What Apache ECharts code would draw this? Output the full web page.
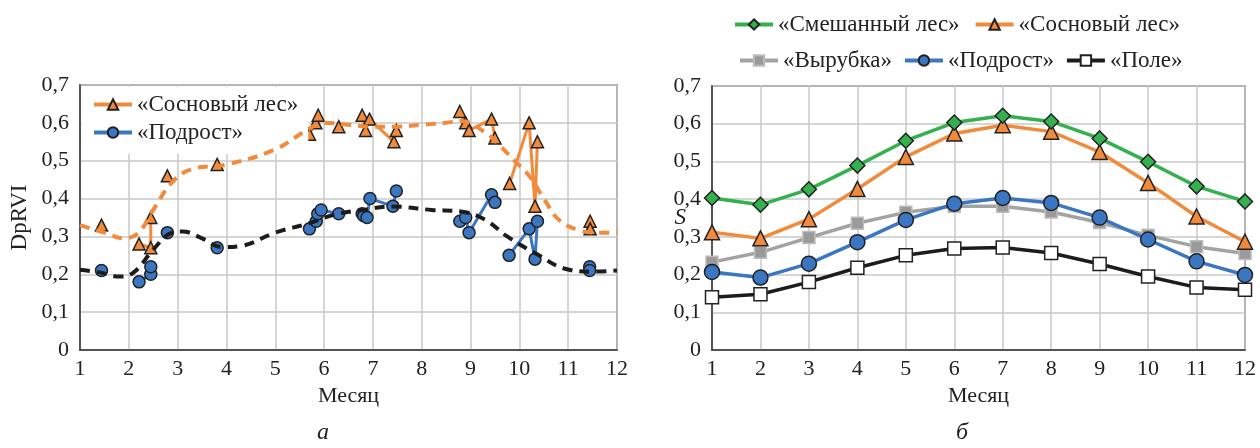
<!DOCTYPE html>
<html><head><meta charset="utf-8">
<script src="https://cdn.jsdelivr.net/npm/echarts@6/dist/echarts.min.js"></script>
<style>html,body{margin:0;padding:0;background:#fff}#c{width:1260px;height:448px}</style>
</head><body><div id="c"></div>
<script>
// ---------- Panel a: observations (null = break in line) ----------
const pineObsX = [1.44, null, 2.21, 2.45, 2.45, null, 2.79, null, 3.81, null,
  5.70, 5.83, 5.88, null, 6.30, null,
  6.78, 6.85, 6.93, 7.43, 7.48, null,
  8.78, 8.90, 8.97, 9.43, 9.50, null,
  9.80, 10.20, 10.32, 10.37, null,
  11.45, 11.45];
const pineObsY = [0.33, null, 0.28, 0.27, 0.35, null, 0.46, null, 0.49, null,
  0.57, 0.60, 0.62, null, 0.59, null,
  0.62, 0.58, 0.61, 0.55, 0.58, null,
  0.63, 0.60, 0.58, 0.61, 0.56, null,
  0.44, 0.60, 0.38, 0.55, null,
  0.34, 0.32];
const underObsX = [1.44, null, 2.21, 2.45, 2.45, null, 2.79, null, 3.81, null,
  5.70, 5.84, 5.87, 5.94, 6.30, null,
  6.78, 6.81, 6.88, 6.94, 7.41, 7.48, null,
  8.78, 8.90, 8.97, 9.43, 9.50, null,
  9.79, 10.20, 10.32, 10.37, null,
  11.44, 11.44];
const underObsY = [0.21, null, 0.18, 0.20, 0.22, null, 0.31, null, 0.27, null,
  0.32, 0.34, 0.36, 0.37, 0.36, null,
  0.36, 0.355, 0.35, 0.40, 0.38, 0.42, null,
  0.34, 0.35, 0.31, 0.41, 0.39, null,
  0.25, 0.32, 0.24, 0.34, null,
  0.22, 0.21];
// trend curves
const pineTrendX = [1, 1.5, 1.9, 2.2, 2.5, 2.9, 3.3, 4, 5, 5.7, 6, 6.5, 7, 7.5, 8, 8.5, 8.8, 9.3, 9.6, 9.9, 10.2, 10.5, 10.8, 11.2, 11.6, 12];
const pineTrendY = [0.33, 0.31, 0.295, 0.31, 0.37, 0.445, 0.478, 0.49, 0.53, 0.585, 0.60, 0.595, 0.59, 0.59, 0.595, 0.60, 0.605, 0.575, 0.54, 0.50, 0.46, 0.40, 0.345, 0.317, 0.31, 0.31];
const underTrendX = [1, 1.4, 1.8, 2.1, 2.5, 2.85, 3.1, 3.5, 3.9, 4.3, 5, 5.7, 6.2, 6.8, 7.4, 8.2, 8.8, 9.3, 9.75, 10.4, 10.9, 11.5, 12];
const underTrendY = [0.212, 0.205, 0.194, 0.205, 0.265, 0.308, 0.313, 0.295, 0.272, 0.275, 0.31, 0.335, 0.357, 0.37, 0.379, 0.37, 0.366, 0.344, 0.30, 0.25, 0.216, 0.207, 0.21];

// ---------- Panel б: monthly means ----------
const months = [1, 2, 3, 4, 5, 6, 7, 8, 9, 10, 11, 12];
const mixedForest = [0.403, 0.385, 0.426, 0.489, 0.555, 0.603, 0.621, 0.606, 0.561, 0.499, 0.434, 0.394];
const pineForest  = [0.312, 0.296, 0.347, 0.427, 0.512, 0.574, 0.596, 0.579, 0.525, 0.443, 0.354, 0.287];
const clearcut    = [0.233, 0.259, 0.298, 0.336, 0.365, 0.381, 0.381, 0.366, 0.338, 0.304, 0.274, 0.256];
const undergrowth = [0.207, 0.192, 0.229, 0.286, 0.345, 0.388, 0.403, 0.390, 0.351, 0.293, 0.235, 0.199];
const field       = [0.140, 0.148, 0.180, 0.218, 0.251, 0.269, 0.272, 0.257, 0.228, 0.195, 0.166, 0.160];

const yTicks = ['0', '0,1', '0,2', '0,3', '0,4', '0,5', '0,6', '0,7'];

const F = '"Liberation Serif", "DejaVu Serif", serif';
const C = { green: '#35b04f', orange: '#f28a3b', gray: '#a3a3a3', blue: '#3b76c3', black: '#1c1c1c' };
const pair = (xs, ys) => xs.map((x, i) => x === null ? ['-', '-'] : [x, ys[i]]);
const zip = (xs, ys) => xs.map((x, i) => [x, ys[i]]);

const axisLabel = { fontFamily: F, fontSize: 22, color: '#222' };
function xAx(gi) {
  return { type: 'value', gridIndex: gi, min: 1, max: 12, interval: 1,
    name: 'Месяц', nameLocation: 'middle', nameGap: 30,
    nameTextStyle: { fontFamily: F, fontSize: 22, color: '#222' },
    axisLine: { show: true, lineStyle: { color: '#333', width: 1.5 } },
    axisTick: { show: false }, axisLabel: { ...axisLabel, margin: 8 },
    splitLine: { show: true, lineStyle: { color: '#c9c9c9', width: 1.5 } } };
}
function yAx(gi, name, gap, italic, rot, moveOverlap) {
  return { type: 'value', gridIndex: gi, min: 0, max: 0.7, interval: 0.1,
    name: name, nameLocation: 'middle', nameGap: gap, nameRotate: rot, nameMoveOverlap: moveOverlap,
    nameTextStyle: { fontFamily: F, fontSize: 23, color: '#222', fontStyle: italic ? 'italic' : 'normal' },
    axisLine: { show: true, lineStyle: { color: '#333', width: 1.5 } },
    axisTick: { show: false },
    axisLabel: { ...axisLabel, margin: 11, formatter: v => yTicks[Math.round(v * 10)] },
    splitLine: { show: true, lineStyle: { color: '#c9c9c9', width: 1.5 } } };
}
const mk = (c) => ({ color: c, borderColor: '#222', borderWidth: 1.5 });
const legText = { fontFamily: F, fontSize: 23, color: '#222' };

const option = {
  animation: false,
  backgroundColor: '#fff',
  grid: [
    { left: 80, right: 643, top: 85, bottom: 98, show: true, borderColor: '#555', borderWidth: 1.5, backgroundColor: 'transparent', outerBoundsMode: 'none' },
    { left: 712, right: 15, top: 86, bottom: 98, show: true, borderColor: '#555', borderWidth: 1.5, backgroundColor: 'transparent', outerBoundsMode: 'none' }
  ],
  xAxis: [xAx(0), xAx(1)],
  yAxis: [yAx(0, 'DpRVI', 49, false, 90, true), yAx(1, 'S', 26, true, 0, false)],
  legend: [
    { data: ['«Сосновый лес»', '«Подрост»'], orient: 'vertical', left: 82, top: 87,
      backgroundColor: '#fff', padding: [6, 10, 10, 10], itemGap: 5, itemWidth: 38, itemHeight: 13,
      lineStyle: { width: 4 }, textStyle: legText },
    { data: ['«Смешанный лес»', '«Сосновый лес»'], left: 728, top: 8, itemGap: 14, itemWidth: 38, itemHeight: 13,
      lineStyle: { width: 4 }, textStyle: legText },
    { data: ['«Вырубка»', '«Подрост»', '«Поле»'], left: 733, top: 44, itemGap: 11, itemWidth: 38, itemHeight: 13,
      lineStyle: { width: 4 }, textStyle: legText }
  ],
  title: [
    { text: 'а', left: 312, top: 416, textStyle: { fontFamily: F, fontSize: 24, fontStyle: 'italic', fontWeight: 'normal', color: '#222' } },
    { text: 'б', left: 951, top: 416, textStyle: { fontFamily: F, fontSize: 24, fontStyle: 'italic', fontWeight: 'normal', color: '#222' } }
  ],
  series: [
    // panel a
    { name: '«Сосновый лес»', type: 'line', xAxisIndex: 0, yAxisIndex: 0, data: pair(pineObsX, pineObsY),
      symbol: 'triangle', symbolSize: 12, showAllSymbol: true, connectNulls: false,
      lineStyle: { color: C.orange, width: 3 }, itemStyle: mk(C.orange), z: 3 },
    { name: '«Подрост»', type: 'line', xAxisIndex: 0, yAxisIndex: 0, data: pair(underObsX, underObsY),
      symbol: 'circle', symbolSize: 12, showAllSymbol: true, connectNulls: false,
      lineStyle: { color: C.blue, width: 3 }, itemStyle: mk(C.blue), z: 3 },
    { name: 'trendPine', type: 'line', xAxisIndex: 0, yAxisIndex: 0, data: zip(pineTrendX, pineTrendY),
      smooth: 0.4, showSymbol: false, symbol: 'none',
      lineStyle: { color: C.orange, width: 4, type: [10, 7] }, z: 4 },
    { name: 'trendUnder', type: 'line', xAxisIndex: 0, yAxisIndex: 0, data: zip(underTrendX, underTrendY),
      smooth: 0.4, showSymbol: false, symbol: 'none',
      lineStyle: { color: C.black, width: 4, type: [10, 7] }, z: 4 },
    // panel б
    { name: '«Поле»', type: 'line', xAxisIndex: 1, yAxisIndex: 1, data: zip(months, field),
      symbol: 'rect', symbolSize: 13, lineStyle: { color: C.black, width: 3.5 },
      itemStyle: { color: '#fff', borderColor: '#222', borderWidth: 1.5 }, z: 3 },
    { name: '«Вырубка»', type: 'line', xAxisIndex: 1, yAxisIndex: 1, data: zip(months, clearcut),
      symbol: 'rect', symbolSize: 12, lineStyle: { color: C.gray, width: 3.5 },
      itemStyle: { color: '#9a9a9a', borderColor: '#bdbdbd', borderWidth: 1.5 }, z: 3 },
    { name: '«Подрост»', type: 'line', xAxisIndex: 1, yAxisIndex: 1, data: zip(months, undergrowth),
      symbol: 'circle', symbolSize: 15, lineStyle: { color: C.blue, width: 3.5 }, itemStyle: mk(C.blue), z: 3 },
    { name: '«Сосновый лес»', type: 'line', xAxisIndex: 1, yAxisIndex: 1, data: zip(months, pineForest),
      symbol: 'triangle', symbolSize: 15, lineStyle: { color: C.orange, width: 3.5 }, itemStyle: mk(C.orange), z: 3 },
    { name: '«Смешанный лес»', type: 'line', xAxisIndex: 1, yAxisIndex: 1, data: zip(months, mixedForest),
      symbol: 'diamond', symbolSize: 15, lineStyle: { color: C.green, width: 3.5 }, itemStyle: mk(C.green), z: 3 }
  ]
};
const chart = echarts.init(document.getElementById('c'), null, { renderer: 'canvas' });
chart.setOption(option);
</script></body></html>
